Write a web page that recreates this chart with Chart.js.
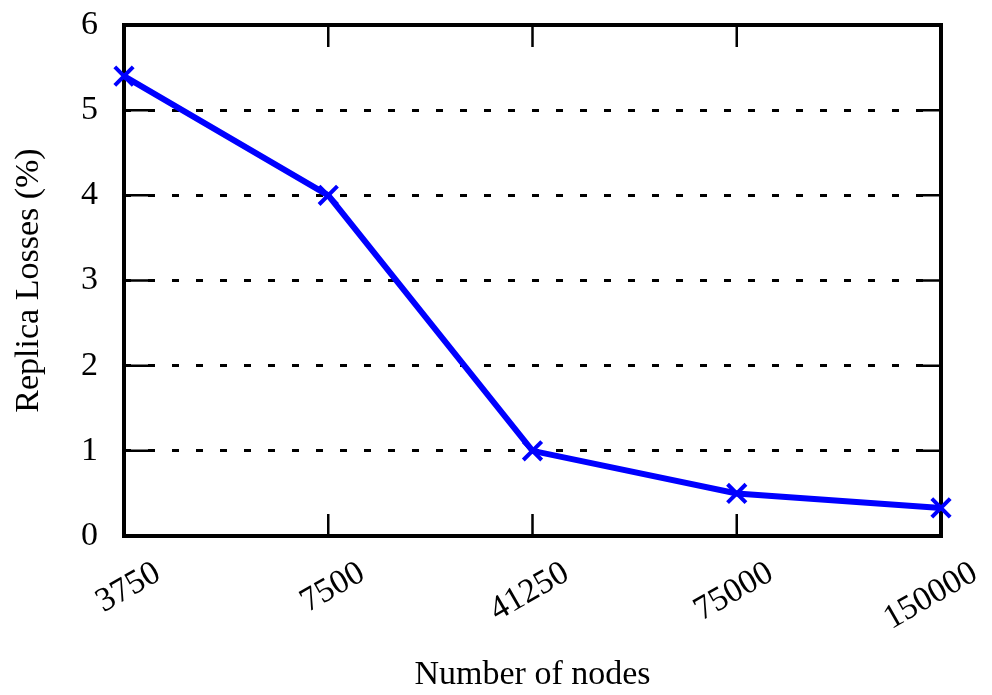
<!DOCTYPE html>
<html>
<head>
<meta charset="utf-8">
<script src="https://cdn.jsdelivr.net/npm/chart.js@4.4.1/dist/chart.umd.min.js"></script>
<style>
  html, body { margin: 0; padding: 0; background: #fff; }
  #wrap { width: 992px; height: 695px; }
</style>
</head>
<body>
<div id="wrap"><canvas id="lossChart" width="992" height="695"></canvas></div>
<script>
const nodeCounts = ["3750", "7500", "41250", "75000", "150000"];
const replicaLosses = [5.4, 4.0, 1.0, 0.5, 0.33];
const yTicks = [0, 1, 2, 3, 4, 5, 6];

const serif = "'Liberation Serif', 'Times New Roman', serif";

// box around the plot plus the inward tick marks, gnuplot style
const framePlugin = {
    id: "frame",
    beforeDatasetsDraw(chart) {
        const { ctx, chartArea: a, scales } = chart;
        ctx.save();
        ctx.strokeStyle = "#000";
        ctx.lineWidth = 2.5;
        ctx.beginPath();
        scales.y.ticks.forEach((t, i) => {
            const py = scales.y.getPixelForTick(i);
            ctx.moveTo(a.left, py); ctx.lineTo(a.left + 27, py);
            ctx.moveTo(a.right, py); ctx.lineTo(a.right - 23, py);
        });
        scales.x.ticks.forEach((t, i) => {
            const px = scales.x.getPixelForTick(i);
            ctx.moveTo(px, a.bottom); ctx.lineTo(px, a.bottom - 22);
            ctx.moveTo(px, a.top); ctx.lineTo(px, a.top + 22);
        });
        ctx.stroke();
        ctx.lineWidth = 4;
        ctx.strokeRect(a.left, a.top, a.right - a.left, a.bottom - a.top);
        ctx.restore();
    }
};

const ctx = document.getElementById("lossChart").getContext("2d");
new Chart(ctx, {
    type: "line",
    data: {
        labels: nodeCounts,
        datasets: [{
            label: "Replica Losses",
            data: replicaLosses,
            borderColor: "#0000ff",
            backgroundColor: "#0000ff",
            borderWidth: 6,
            pointStyle: "crossRot",
            pointRadius: 13,
            pointBorderWidth: 4,
            pointHoverRadius: 13,
            fill: false,
            tension: 0,
            clip: false
        }]
    },
    options: {
        responsive: false,
        animation: false,
        layout: {
            padding: { left: 9, right: 51, top: 25, bottom: 0 }
        },
        plugins: {
            legend: { display: false },
            tooltip: { enabled: false }
        },
        scales: {
            x: {
                offset: false,
                grid: { display: false, drawTicks: false },
                border: { display: false },
                ticks: {
                    color: "#000",
                    font: { family: serif, size: 34 },
                    minRotation: 30,
                    maxRotation: 30,
                    labelOffset: 34,
                    padding: 17,
                    autoSkip: false
                },
                title: {
                    display: true,
                    text: "Number of nodes",
                    color: "#000",
                    font: { family: serif, size: 34 },
                    padding: 0
                },
                afterFit(scale) {
                    scale.height = 695 - 536;
                    scale.paddingLeft = 0;
                    scale.paddingRight = 0;
                }
            },
            y: {
                min: 0,
                max: 6,
                afterBuildTicks(scale) { scale.ticks = yTicks.map(v => ({ value: v })); },
                grid: {
                    color: "#000",
                    lineWidth: 3,
                    drawTicks: false
                },
                border: { display: false, dash: [7, 17] },
                ticks: {
                    color: "#000",
                    font: { family: serif, size: 34 },
                    padding: 26
                },
                title: {
                    display: true,
                    text: "Replica Losses (%)",
                    color: "#000",
                    font: { family: serif, size: 34 },
                    padding: 0
                },
                afterFit(scale) {
                    scale.width = 124 - 9;
                    scale.paddingTop = 0;
                    scale.paddingBottom = 0;
                }
            }
        }
    },
    plugins: [framePlugin]
});
</script>
</body>
</html>
